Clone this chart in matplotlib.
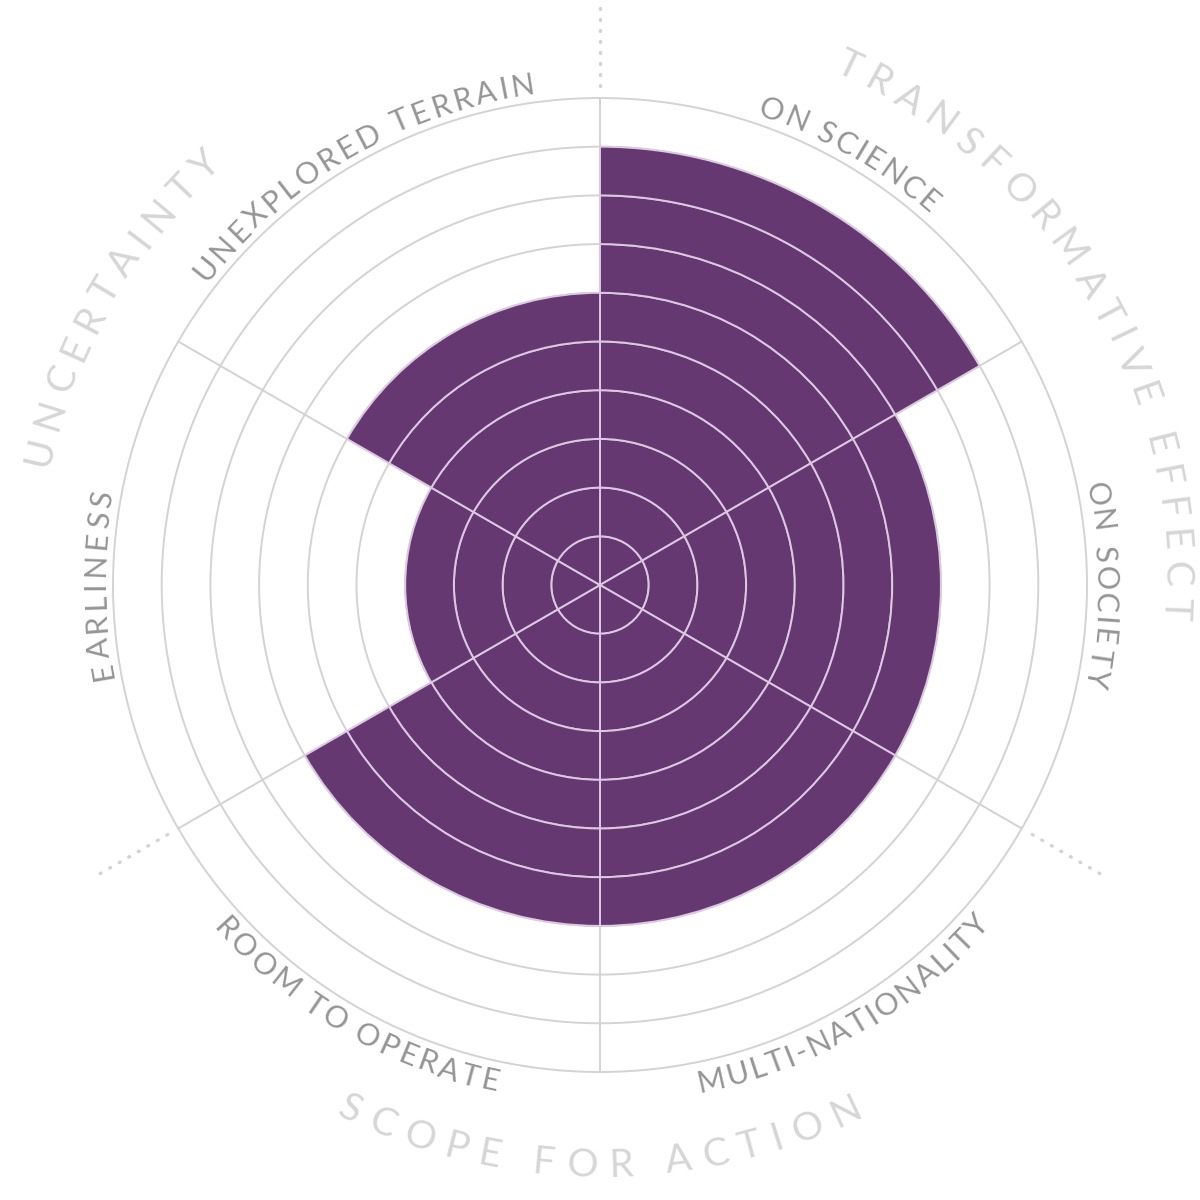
import matplotlib.pyplot as plt
import numpy as np
from matplotlib.font_manager import FontProperties
from matplotlib.textpath import TextPath

# data
categories = ["ON SCIENCE", "ON SOCIETY", "MULTI-NATIONALITY",
              "ROOM TO OPERATE", "EARLINESS", "UNEXPLORED TERRAIN"]
scores = [9, 7, 7, 7, 4, 6]
groups = ["TRANSFORMATIVE EFFECT", "SCOPE FOR ACTION", "UNCERTAINTY"]
max_score = 10

PURPLE = '#663872'
LAVENDER = '#dcc8e2'
GRID = '#d3d3d3'
LABEL = '#959595'
GROUP = '#d6d6d6'

fig = plt.figure(figsize=(12, 12), dpi=100)
rmax = 12.2
px_unit = 48.7  # pixels per score unit
w = 2 * rmax * px_unit / 1200
ax = fig.add_axes([0.5 - w / 2, 1 - 585 / 1200 - w / 2, w, w], projection='polar')
ax.set_theta_zero_location('N')
ax.set_theta_direction(-1)
ax.set_ylim(0, rmax)
ax.axis('off')

n = len(categories)
width = 2 * np.pi / n
centers = np.arange(n) * width + width / 2

# rings and spokes
circle = np.linspace(0, 2 * np.pi, 500)
for r in range(1, max_score + 1):
    ax.plot(circle, np.full_like(circle, r), color=GRID, lw=1.4, zorder=1)
for i in range(n):
    t = i * width
    ax.plot([t, t], [0, max_score], color=GRID, lw=1.4, zorder=1)

# dotted separators between groups
for i in range(0, n, 2):
    t = i * width
    ax.plot([t, t], [10.25, 11.95], color=GRID, lw=2.4,
            ls=(0, (0.3, 3.0)), dash_capstyle='round', zorder=1)

# bars, one segment per score unit
for c, v in zip(centers, scores):
    ax.bar([c] * v, 1, width=width, bottom=np.arange(v), color=PURPLE,
           edgecolor=LAVENDER, lw=1.4, zorder=2)

renderer = fig.canvas.get_renderer()


def char_width(ch, fp):
    a = renderer.get_text_width_height_descent("H" + ch + "H", fp, ismath=False)[0]
    b = renderer.get_text_width_height_descent("HH", fp, ismath=False)[0]
    return a - b


def curved(text, center_deg, radius, span_deg, fp, color, outward=True):
    widths = [char_width(ch, fp) for ch in text]
    cap = TextPath((0, 0), "H", prop=fp).get_extents().height * 100 / 72
    span_px = np.deg2rad(span_deg) * radius * px_unit
    gap = (span_px - sum(widths)) / (len(text) - 1)
    sign = 1 if outward else -1
    rb = radius - sign * cap / 2 / px_unit
    pos = -span_px / 2
    for ch, cw in zip(text, widths):
        mid = pos + cw / 2
        ang = center_deg + sign * np.rad2deg(mid / (radius * px_unit))
        rot = -ang if outward else 180 - ang
        ax.text(np.deg2rad(ang), rb, ch, rotation=rot, rotation_mode='anchor',
                ha='center', va='baseline', color=color, fontproperties=fp,
                zorder=3)
        pos += cw + gap


cat_fp = FontProperties(family=['Lato', 'DejaVu Sans'], weight='normal', size=22)
grp_fp = FontProperties(family=['Lato', 'DejaVu Sans'], weight='normal', size=28)

cat_spans = [23, 23.5, 38, 37, 21.5, 45]
for name, c, sp in zip(categories, np.rad2deg(centers), cat_spans):
    outward = not (100 < c < 260)
    curved(name, c, 10.4, sp, cat_fp, LABEL, outward)

grp_centers = [59, 180, 300]
grp_spans = [69, 53, 36]
for name, c, sp in zip(groups, grp_centers, grp_spans):
    outward = not (100 < c < 260)
    curved(name, c, 11.87, sp, grp_fp, GROUP, outward)

plt.savefig("out.png", dpi=100, facecolor='white')
